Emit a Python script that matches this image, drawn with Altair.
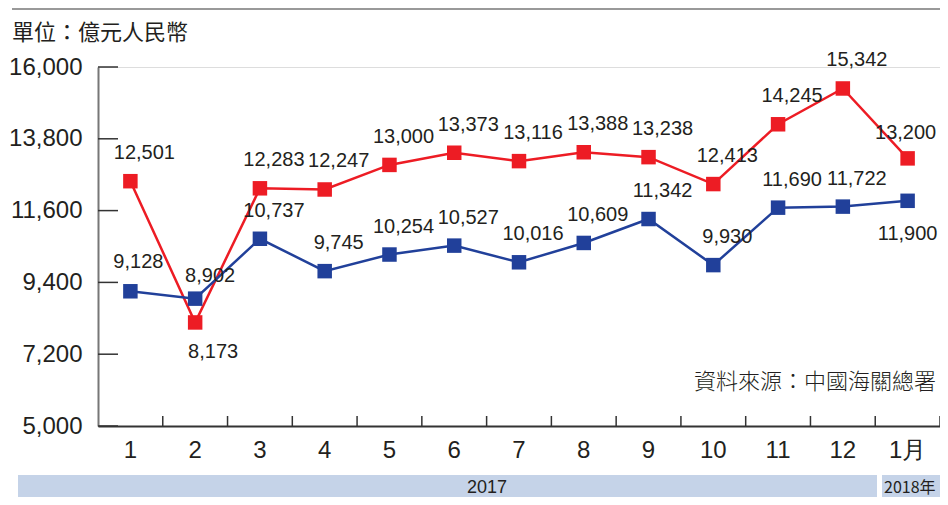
import altair as alt
import pandas as pd

months = ["1", "2", "3", "4", "5", "6", "7", "8", "9", "10", "11", "12", "1月"]
exports = [12501, 8173, 12283, 12247, 13000, 13373, 13116, 13388, 13238, 12413, 14245, 15342, 13200]
imports = [9128, 8902, 10737, 9745, 10254, 10527, 10016, 10609, 11342, 9930, 11690, 11722, 11900]
series_names = ["出口", "進口"]
y_ticks = [5000, 7200, 9400, 11600, 13800, 16000]
unit_text = "單位：億元人民幣"
source_text = "資料來源：中國海關總署"
year_labels = ["2017", "2018年"]

RED = "#ED1C24"
BLUE = "#21409A"
TXT = "#231f20"
NUM_FONT = "Liberation Sans"
CJK_FONT = "Noto Sans CJK TC"

rows = []
for i, m in enumerate(months):
    rows.append({"month": m, "value": exports[i], "series": series_names[0], "idx": i})
    rows.append({"month": m, "value": imports[i], "series": series_names[1], "idx": i})
df = pd.DataFrame(rows)

W, H = 842, 359

xscale = alt.Scale(domain=months, paddingInner=0, paddingOuter=0)
yscale = alt.Scale(domain=[5000, 16000], nice=False, zero=False)
cscale = alt.Scale(domain=series_names, range=[RED, BLUE])

x_axis = alt.Axis(title=None, labelAngle=0, labelFontSize=24, labelFont=NUM_FONT,
                  labelColor=TXT, labelPadding=12, tickSize=0,
                  domainColor="#333333", domainWidth=2)
X = alt.X("month:N", scale=xscale, sort=months, axis=x_axis)
Y = alt.Y("value:Q", scale=yscale,
          axis=alt.Axis(title=None, values=y_ticks, labelExpr="format(datum.value, ',')",
                        labelFontSize=24,
                        labelFont=NUM_FONT, labelColor=TXT, labelPadding=16, tickSize=0,
                        domainColor="#777777", domainWidth=2, grid=False))

base = alt.Chart(df)
lines = base.mark_line(strokeWidth=2.5).encode(
    x=X, y=Y, color=alt.Color("series:N", scale=cscale, legend=None), detail="series:N")
points = base.mark_point(shape="square", filled=True, size=210, opacity=1).encode(
    x=X, y=Y,
    color=alt.Color("series:N", scale=cscale,
                    legend=alt.Legend(title=None, orient="none", legendX=321, legendY=-17,
                                      direction="horizontal", symbolType="square",
                                      symbolSize=361, symbolStrokeWidth=0,
                                      labelFont=CJK_FONT, labelFontSize=22, labelColor=TXT,
                                      labelOffset=9, columnPadding=26)))

# label placement groups: (series, index) -> (dx, dy)
default_dx, default_dy = 14, -28
special = {
    ("出口", 1): (18, 30),
    ("出口", 12): (-2, -25),
    ("進口", 12): (0, 33),
    ("進口", 0): (8, -29),
    ("進口", 1): (15, -23),
}
label_layers = []
groups = {}
for s in series_names:
    for i in range(len(months)):
        groups.setdefault(special.get((s, i), (default_dx, default_dy)), []).append((s, i))
for (dx, dy), members in groups.items():
    cond = " || ".join(
        f"(datum.series == '{s}' && datum.idx == {i})" for s, i in members)
    label_layers.append(
        base.transform_filter(cond).mark_text(
            font=NUM_FONT, fontSize=20, color=TXT, dx=dx, dy=dy, baseline="middle", align="center"
        ).encode(x=X, y=Y, text=alt.Text("value:Q", format=","))
    )

ytick_rules = alt.Chart(pd.DataFrame({"value": y_ticks})).mark_rule(
    color="#333333", strokeWidth=1.5).encode(y=Y, x=alt.value(0), x2=alt.value(20))
xtick_rules = alt.Chart(pd.DataFrame({"month": months})).mark_rule(
    color="#333333", strokeWidth=1.5).encode(
    x=alt.X("month:N", scale=xscale, sort=months, bandPosition=1, axis=x_axis),
    y=alt.value(H - 10), y2=alt.value(H))

one = pd.DataFrame({"k": [0]})
top_line = alt.Chart(one).mark_rule(color="#777777", strokeWidth=1.5, clip=False).encode(
    x=alt.value(-86), x2=alt.value(W + 2), y=alt.value(-58))
unit = alt.Chart(one).mark_text(font=CJK_FONT, fontSize=22, color=TXT, align="left",
                                baseline="middle", text=unit_text).encode(
    x=alt.value(-86), y=alt.value(-34))
source = alt.Chart(one).mark_text(font=CJK_FONT, fontSize=22, fontWeight=300, color=TXT,
                                  align="right", baseline="middle", text=source_text).encode(
    x=alt.value(838), y=alt.value(315))
band1 = alt.Chart(one).mark_rect(color="#C5D3E8").encode(
    x=alt.value(-80), x2=alt.value(779), y=alt.value(408), y2=alt.value(432))
band2 = alt.Chart(one).mark_rect(color="#C5D3E8").encode(
    x=alt.value(784), x2=alt.value(W + 2), y=alt.value(408), y2=alt.value(432))
band_t1 = alt.Chart(one).mark_text(font=NUM_FONT, fontSize=18, color=TXT, align="center",
                                   baseline="middle", text=year_labels[0]).encode(
    x=alt.value(389), y=alt.value(421))
band_t2 = alt.Chart(one).mark_text(font=CJK_FONT, fontSize=16, color=TXT, align="left",
                                   baseline="middle", text=year_labels[1]).encode(
    x=alt.value(786), y=alt.value(421))

chart = alt.layer(
    band1, band2, band_t1, band_t2, top_line, unit, source,
    ytick_rules, xtick_rules, lines, points, *label_layers
).resolve_scale(x="shared", y="shared").properties(
    width=W, height=H,
    autosize=alt.AutoSizeParams(type="none"),
    padding={"left": 90, "top": 59, "right": 0, "bottom": 71},
).configure_view(stroke=None).configure(background="white")

chart.save("out.html", embed_options={"renderer": "svg", "actions": False})
